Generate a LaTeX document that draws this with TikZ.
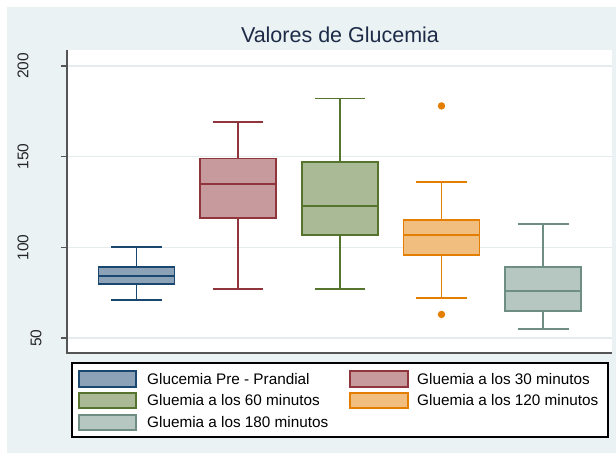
\documentclass[tikz,border=0pt]{standalone}
\usepackage{fontspec}
\setmainfont{Liberation Sans}
\definecolor{bgc}{HTML}{EAF2F3}
\definecolor{gridc}{HTML}{E4ECEE}
\definecolor{axc}{HTML}{555555}
\definecolor{titc}{HTML}{1E2B48}
\definecolor{cnavy}{HTML}{1A476F}
\definecolor{cmaroon}{HTML}{90353B}
\definecolor{cgreen}{HTML}{55752F}
\definecolor{corange}{HTML}{E37E00}
\definecolor{cteal}{HTML}{6E8E84}
\newcommand\gv[1]{428.67-1.8133*(#1)}
\tikzset{
  boxfill/.style={draw=#1, fill=#1!50!white, line width=1.9bp},
  medline/.style={draw=#1, line width=1.9bp},
  whisk/.style={draw=#1, line width=1.7bp},
  ticklab/.style={rotate=90, font=\fontsize{15.5bp}{17bp}\selectfont, text=black!85, inner sep=0pt},
  legtext/.style={anchor=west, font=\fontsize{15.3bp}{17bp}\selectfont, inner sep=0pt},
  swatch/.style={draw=#1, fill=#1!50!white, line width=1.3bp},
}
% box: center, halfwidth, capw, lo, q1, med, q3, hi, color
\newcommand\gbox[9]{%
  \draw[whisk=#9] (#1,{\gv{#5}}) -- (#1,{\gv{#4}});
  \draw[whisk=#9] (#1,{\gv{#7}}) -- (#1,{\gv{#8}});
  \draw[whisk=#9] ({#1-#3},{\gv{#4}}) -- ({#1+#3},{\gv{#4}});
  \draw[whisk=#9] ({#1-#3},{\gv{#8}}) -- ({#1+#3},{\gv{#8}});
  \draw[boxfill=#9] ({#1-#2},{\gv{#5}}) rectangle ({#1+#2},{\gv{#7}});
  \draw[medline=#9] ({#1-#2},{\gv{#6}}) -- ({#1+#2},{\gv{#6}});
}
\begin{document}
\begin{tikzpicture}[x=1bp,y=-1bp]
\useasboundingbox (0,0) rectangle (616,453);
\fill[white] (0,0) rectangle (616,453);
\fill[bgc] (7,7) rectangle (616,453);
\fill[white] (67,50) rectangle (612,353);
% grid
\foreach \v in {50,100,150,200}{
  \draw[gridc, line width=1.2bp] (67,{\gv{\v}}) -- (612,{\gv{\v}});
  \draw[axc, line width=1.1bp] (61,{\gv{\v}}) -- (67,{\gv{\v}});
}
\draw[axc, line width=1.4bp] (67,50) -- (67,353) -- (612,353);
% tick labels
\node[ticklab] (t200) at (23,{\gv{200}}) {200};
\node[ticklab] (t150) at (23,{\gv{150}}) {150};
\node[ticklab] (t100) at (23,{\gv{100}}) {100};
\node[ticklab] (t50) at (36,{\gv{50}}) {50};
% title
\node[font=\fontsize{21.5bp}{24bp}\selectfont, text=titc, inner sep=0pt] (title) at (340,35) {Valores de Glucemia};
% boxes
\gbox{136.5}{38}{25.5}{71}{80}{84}{89}{100}{cnavy}
\gbox{238}{38}{25}{77}{116}{135}{149}{169}{cmaroon}
\gbox{340}{38}{25}{77}{107}{123}{147}{182}{cgreen}
\gbox{441.5}{38}{25.5}{72}{96}{107}{115}{136}{corange}
\gbox{543}{38}{25.5}{55}{65}{76}{89}{113}{cteal}
\fill[corange] (441.5,{\gv{178}}) circle (3.7);
\fill[corange] (441.5,{\gv{63}}) circle (3.7);
% legend
\draw[black, line width=1.1bp, fill=white] (72,363) rectangle (608,437);
\draw[swatch=cnavy] (79,371) rectangle (136,387);
\draw[swatch=cgreen] (79,393) rectangle (136,408);
\draw[swatch=cteal] (79,415) rectangle (136,430);
\draw[swatch=cmaroon] (350,371) rectangle (408,387);
\draw[swatch=corange] (350,393) rectangle (408,408);
\node[legtext] (l1) at (147,379) {Glucemia Pre - Prandial};
\node[legtext] (l2) at (147,400.5) {Gluemia a los 60 minutos};
\node[legtext] (l3) at (147,422.5) {Gluemia a los 180 minutos};
\node[legtext] (l4) at (417,379) {Gluemia a los 30 minutos};
\node[legtext] (l5) at (417,400.5) {Gluemia a los 120 minutos};
\end{tikzpicture}
\end{document}
